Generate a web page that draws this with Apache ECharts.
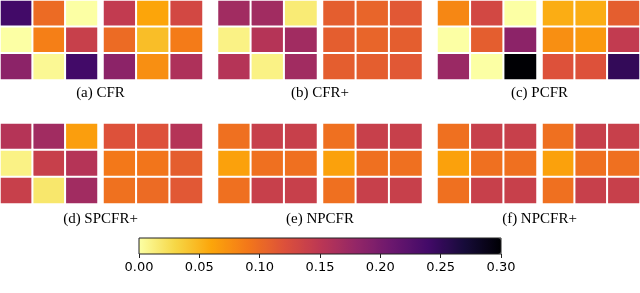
<!DOCTYPE html>
<html>
<head>
<meta charset="utf-8">
<script src="https://cdn.jsdelivr.net/npm/echarts@6/dist/echarts.min.js"></script>
<style>
html,body{margin:0;padding:0;background:#fff;}
#chart{width:640px;height:293px;}
</style>
</head>
<body>
<div id="chart"></div>
<script>
// Values (rows top to bottom, columns left to right)
var cfrLeft = [[0.24, 0.10, 0.00], [0.00, 0.085, 0.14], [0.185, 0.005, 0.24]];
var cfrRight = [[0.145, 0.06, 0.13], [0.10, 0.045, 0.088], [0.185, 0.075, 0.16]];
var cfrpLeft = [[0.17, 0.17, 0.015], [0.01, 0.155, 0.17], [0.155, 0.01, 0.17]];
var cfrpRight = [[0.11, 0.105, 0.115], [0.11, 0.105, 0.11], [0.11, 0.11, 0.115]];
var pcfrLeft = [[0.08, 0.13, 0.00], [0.00, 0.11, 0.185], [0.175, 0.00, 0.30]];
var pcfrRight = [[0.055, 0.055, 0.11], [0.075, 0.068, 0.145], [0.12, 0.12, 0.25]];
var spcfrLeft = [[0.155, 0.17, 0.065], [0.01, 0.14, 0.155], [0.14, 0.018, 0.17]];
var spcfrRight = [[0.12, 0.12, 0.155], [0.09, 0.092, 0.11], [0.095, 0.10, 0.115]];
var npcfrLeft = [[0.096, 0.14, 0.14], [0.063, 0.096, 0.096], [0.096, 0.14, 0.14]];
var npcfrRight = [[0.096, 0.14, 0.14], [0.063, 0.096, 0.096], [0.096, 0.14, 0.14]];
var npcfrpLeft = [[0.096, 0.14, 0.14], [0.063, 0.096, 0.096], [0.096, 0.14, 0.14]];
var npcfrpRight = [[0.096, 0.14, 0.14], [0.063, 0.096, 0.096], [0.096, 0.14, 0.14]];

var panelTitles = ['(a) CFR', '(b) CFR+', '(c) PCFR', '(d) SPCFR+', '(e) NPCFR', '(f) NPCFR+'];
var panelData = [
  [cfrLeft, cfrRight], [cfrpLeft, cfrpRight], [pcfrLeft, pcfrRight],
  [spcfrLeft, spcfrRight], [npcfrLeft, npcfrRight], [npcfrpLeft, npcfrpRight]
];
var cats = ['0', '1', '2'];
var colorbarTicks = [0, 0.05, 0.10, 0.15, 0.20, 0.25, 0.30];
var inferno = ['#fcffa4', '#f6d746', '#fca50a', '#f37819', '#dd513a', '#bc3754',
               '#932667', '#6a176e', '#420a68', '#160b39', '#000004'];

var grids = [], xAxes = [], yAxes = [], series = [], titles = [];
var colX = [0, 219.5, 439];
var rowY = [-1, 123];
var titleY = [86, 212];
panelData.forEach(function (pair, p) {
  var c = p % 3, r = Math.floor(p / 3);
  var base = colX[c];
  [base - 2, base + 103].forEach(function (lx, k) {
    var gi = grids.length;
    grids.push({left: lx, top: rowY[r], width: 100, height: 81, containLabel: false});
    xAxes.push({type: 'category', data: cats, gridIndex: gi, show: false});
    yAxes.push({type: 'category', data: cats, gridIndex: gi, show: false, inverse: true});
    var d = [];
    pair[k].forEach(function (row, yi) {
      row.forEach(function (v, xi) { d.push([xi, yi, v]); });
    });
    series.push({
      type: 'heatmap', xAxisIndex: gi, yAxisIndex: gi, data: d,
      itemStyle: {borderColor: '#ffffff', borderWidth: 2},
      emphasis: {disabled: true}
    });
  });
  titles.push({
    text: panelTitles[p], left: base + 100.5, top: titleY[r], textAlign: 'center', padding: 0,
    textStyle: {fontFamily: 'Liberation Serif', fontWeight: 'normal', fontSize: 15, color: '#000'}
  });
});

// colorbar axis grid
var cbi = grids.length;
grids.push({left: 139, top: 238, width: 362, height: 16, show: true, borderColor: '#222',
  borderWidth: 1, backgroundColor: 'transparent', z: 10});
xAxes.push({type: 'value', gridIndex: cbi, min: colorbarTicks[0], max: colorbarTicks[colorbarTicks.length - 1],
  interval: 0.05, position: 'bottom', z: 10,
  axisLine: {show: false}, splitLine: {show: false},
  axisTick: {show: true, length: 4, lineStyle: {color: '#222'}},
  axisLabel: {formatter: function (v) { return v.toFixed(2); }, fontFamily: 'DejaVu Sans', fontSize: 13, color: '#000', margin: 7}
});
yAxes.push({type: 'value', gridIndex: cbi, show: false});

var chart = echarts.init(document.getElementById('chart'), null, {renderer: 'canvas'});
chart.setOption({
  animation: false,
  backgroundColor: '#fff',
  title: titles,
  grid: grids,
  xAxis: xAxes,
  yAxis: yAxes,
  visualMap: {
    type: 'continuous', min: 0, max: 0.3, orient: 'horizontal', calculable: false,
    left: 139, top: 238, itemWidth: 16, itemHeight: 362, padding: 0, text: null,
    seriesIndex: series.map(function (s, i) { return i; }),
    inRange: {color: inferno}, hoverLink: false
  },
  series: series
});
</script>
</body>
</html>
